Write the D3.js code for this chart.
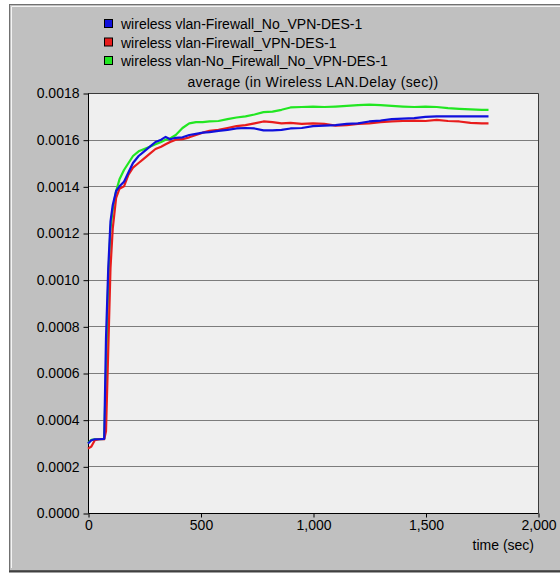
<!DOCTYPE html>
<html>
<head>
<meta charset="utf-8">
<script src="https://cdn.jsdelivr.net/npm/d3@7"></script>
<style>
  body { margin: 0; background: #fff; }
  svg { display: block; }
  text { font-family: "Liberation Sans", Arial, sans-serif; fill: #000; }
</style>
</head>
<body>
<script>
// sample times (sec)
var times = [0, 15, 30, 50, 72, 80, 90, 100, 110, 125, 140, 160, 180, 200, 225, 250, 275, 300,
  325, 345, 365, 390, 420, 450, 480, 510, 540, 580, 620, 660, 700, 740, 780, 820, 860, 900,
  950, 1000, 1050, 1100, 1150, 1200, 1250, 1300, 1350, 1400, 1450, 1500, 1550, 1600, 1650,
  1700, 1750, 1780]

var fwNoVpn = [0.000298, 0.000312, 0.000316, 0.000316, 0.000318, 0.00075, 0.00105, 0.00125,
  0.00132, 0.00138, 0.0014, 0.00142, 0.00146, 0.0015, 0.00153, 0.00155, 0.00157, 0.00159,
  0.0016, 0.001612, 0.001602, 0.001608, 0.00161, 0.00162, 0.001625, 0.00163, 0.001632, 0.001638,
  0.001642, 0.001648, 0.00165, 0.001648, 0.00164, 0.00164, 0.001642, 0.001648, 0.00165, 0.001658,
  0.00166, 0.001662, 0.001668, 0.00167, 0.001678, 0.001682, 0.001688, 0.00169, 0.001692, 0.001698,
  0.0017, 0.0017, 0.0017, 0.0017, 0.0017, 0.0017]

var fwVpn = [0.000276, 0.000285, 0.000312, 0.000316, 0.000316, 0.00035, 0.0007, 0.00105,
  0.00122, 0.00135, 0.00139, 0.0014, 0.00145, 0.00148, 0.0015, 0.00152, 0.00154, 0.00156,
  0.00157, 0.00158, 0.00159, 0.0016, 0.001602, 0.00161, 0.00162, 0.00163, 0.001638, 0.001642,
  0.00165, 0.001658, 0.001662, 0.00167, 0.001678, 0.001675, 0.00167, 0.001672, 0.001668, 0.00167,
  0.001668, 0.00166, 0.001662, 0.001668, 0.00167, 0.001675, 0.001678, 0.00168, 0.001682, 0.00168,
  0.001685, 0.00168, 0.001678, 0.001672, 0.00167, 0.00167]

var noFwNoVpn = [0.0003, 0.000314, 0.000316, 0.000316, 0.000318, 0.0006, 0.001, 0.00122,
  0.0013, 0.00138, 0.00143, 0.00147, 0.0015, 0.00153, 0.00155, 0.00156, 0.00157, 0.00158,
  0.00159, 0.0016, 0.001605, 0.00162, 0.00165, 0.00167, 0.001675, 0.001675, 0.001678, 0.00168,
  0.001688, 0.001695, 0.0017, 0.001708, 0.001718, 0.00172, 0.001728, 0.001738, 0.00174, 0.001742,
  0.00174, 0.001742, 0.001745, 0.001748, 0.00175, 0.001748, 0.001745, 0.001742, 0.00174, 0.001742,
  0.00174, 0.001735, 0.001732, 0.00173, 0.001728, 0.001728]

var seriesNames = ["wireless vlan-Firewall_No_VPN-DES-1",
  "wireless vlan-Firewall_VPN-DES-1",
  "wireless vlan-No_Firewall_No_VPN-DES-1"]
var seriesColors = ["#1010dc", "#e81c1c", "#22e622"]
var seriesValues = [fwNoVpn, fwVpn, noFwNoVpn]

var yTicks = [0, 0.0002, 0.0004, 0.0006, 0.0008, 0.001, 0.0012, 0.0014, 0.0016, 0.0018]
var xTicks = [0, 500, 1000, 1500, 2000]

var W = 560, H = 575
var plot = {left: 88, right: 538, top: 93, bottom: 513}

var svg = d3.select("body").append("svg")
  .attr("width", W)
  .attr("height", H)

// window frame
svg.append("rect")
  .attr("x", 9.5).attr("y", 4.5)
  .attr("width", W).attr("height", 566)
  .attr("fill", "#c0c0c0")
  .attr("stroke", "#707070")
svg.append("path")
  .attr("d", "M11.5," + (H - 7) + "V6.5H" + W)
  .attr("fill", "none")
  .attr("stroke", "#f4f4f4")
svg.append("path")
  .attr("d", "M9,571.5H" + W)
  .attr("stroke", "#404040")
  .attr("stroke-width", 2)

var x = d3.scaleLinear().domain([0, 2000]).range([plot.left, plot.right])
var y = d3.scaleLinear().domain([0, 0.0018]).range([plot.bottom, plot.top])

// plot background
svg.append("rect")
  .attr("x", plot.left).attr("y", plot.top)
  .attr("width", plot.right - plot.left)
  .attr("height", plot.bottom - plot.top)
  .attr("fill", "#efefef")

// horizontal grid
svg.append("g")
  .selectAll("line")
  .data(yTicks.slice(1, -1))
  .join("line")
  .attr("x1", plot.left).attr("x2", plot.right)
  .attr("y1", d => Math.round(y(d)) + 0.5)
  .attr("y2", d => Math.round(y(d)) + 0.5)
  .attr("stroke", "#7c7c7c")

// top and right border
svg.append("path")
  .attr("d", "M" + plot.left + "," + (plot.top + 0.5) + "H" + (plot.right + 0.5) + "V" + plot.bottom)
  .attr("fill", "none")
  .attr("stroke", "#3a3a3a")

// y axis
var yAxis = d3.axisLeft(y)
  .tickValues(yTicks)
  .tickFormat(d3.format(".4f"))
  .tickSize(5)
  .tickPadding(4)
var gy = svg.append("g")
  .attr("transform", "translate(" + (plot.left + 0.5) + ",0.5)")
  .call(yAxis)
gy.select(".domain").attr("d", "M0," + plot.bottom + "V" + plot.top)
gy.selectAll("text").attr("font-size", 14).style("font-family", null)

// x axis
var xAxis = d3.axisBottom(x)
  .tickValues(xTicks)
  .tickFormat(d3.format(","))
  .tickSize(4)
  .tickPadding(3)
var gx = svg.append("g")
  .attr("transform", "translate(0.5," + (plot.bottom + 0.5) + ")")
  .call(xAxis)
gx.select(".domain").attr("d", "M" + plot.left + ",0H" + plot.right)
gx.selectAll("text").attr("font-size", 14).style("font-family", null)
svg.selectAll(".tick line").attr("stroke", "#000")
svg.selectAll(".domain").attr("stroke", "#000")

// series lines, green drawn first so blue sits on top
var line = d3.line()
  .x((d, i) => x(times[i]))
  .y(d => y(d))

var order = [2, 1, 0]
svg.append("g")
  .selectAll("path")
  .data(order)
  .join("path")
  .attr("d", i => line(seriesValues[i]))
  .attr("fill", "none")
  .attr("stroke", i => seriesColors[i])
  .attr("stroke-width", 2.2)
  .attr("stroke-linejoin", "round")

// title
svg.append("text")
  .attr("x", (plot.left + plot.right) / 2)
  .attr("y", 87)
  .attr("text-anchor", "middle")
  .attr("font-size", 14)
  .style("letter-spacing", "0.35px")
  .text("average (in Wireless LAN.Delay (sec))")

// x axis label
svg.append("text")
  .attr("x", 534)
  .attr("y", 550)
  .attr("text-anchor", "end")
  .attr("font-size", 14)
  .text("time (sec)")

// legend
var legend = svg.append("g")
  .selectAll("g")
  .data(seriesNames)
  .join("g")
  .attr("transform", (d, i) => "translate(104," + (24 + i * 18.5) + ")")
legend.append("rect")
  .attr("x", 0.5).attr("y", -4.5)
  .attr("width", 8).attr("height", 8)
  .attr("fill", (d, i) => seriesColors[i])
  .attr("stroke", "#000")
legend.append("text")
  .attr("x", 17)
  .attr("y", 5)
  .attr("font-size", 14)
  .text(d => d)
</script>
</body>
</html>
